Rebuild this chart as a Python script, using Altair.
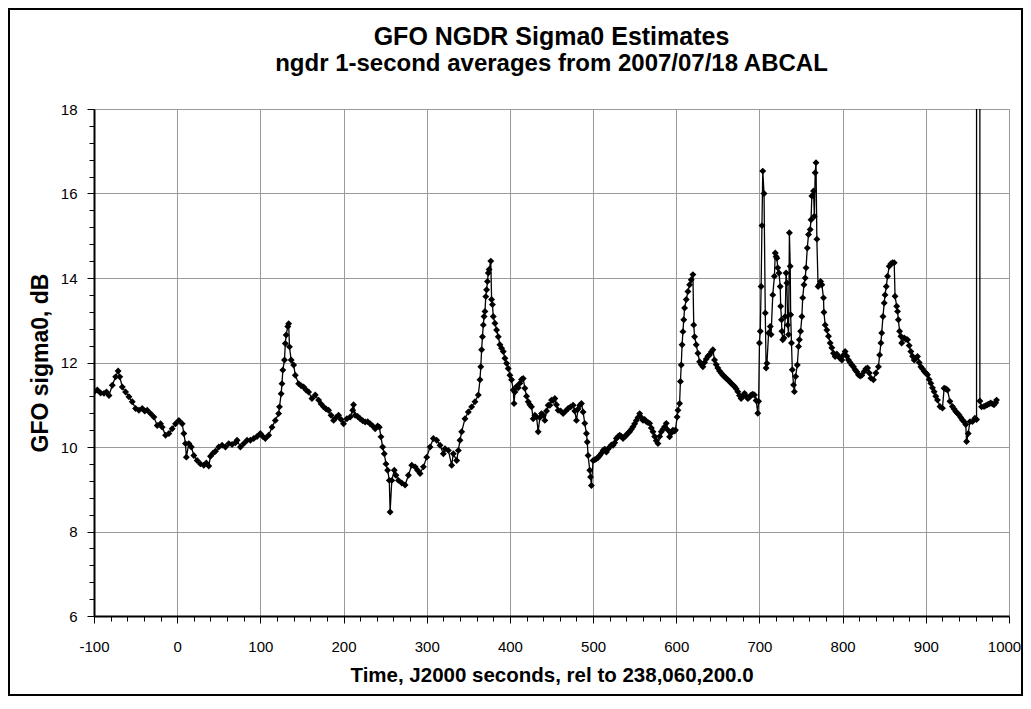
import altair as alt
import pandas as pd

# Time (s, rel to 238,060,200.0) and sigma0 (dB)
t_vals = [
    -100, -96, -92, -88, -85, -82, -78, -74, -71, -69, -66, -62, -58, -54, -50, -46, -42, -39, -36, -32,
    -28, -24, -20, -18, -14, -10, -6, -2, 2, 6, 8, 10, 11, 14, 17, 20, 24, 28, 32, 35,
    38, 40, 43, 46, 50, 54, 58, 62, 66, 70, 72, 76, 80, 84, 88, 92, 96, 100, 103, 106,
    110, 114, 118, 122, 123, 125, 126, 127, 129, 130, 131, 133, 134, 135, 137, 140, 142, 146, 149, 152,
    155, 158, 162, 166, 170, 173, 176, 179, 182, 185, 188, 191, 194, 197, 200, 204, 208, 211, 212, 214,
    217, 220, 223, 226, 229, 232, 235, 238, 241, 243, 245, 247, 249, 251, 253, 255, 256, 258, 261, 263,
    266, 270, 274, 278, 282, 286, 289, 292, 296, 300, 304, 308, 312, 316, 320, 322, 326, 330, 332, 336,
    338, 340, 342, 346, 350, 354, 358, 362, 364, 365, 366, 367, 368, 369, 370, 371, 372, 373, 374, 375,
    377, 378, 379, 380, 382, 384, 386, 388, 390, 392, 394, 396, 398, 400, 402, 404, 405, 406, 408, 410,
    412, 414, 416, 418, 420, 422, 424, 426, 428, 430, 432, 434, 436, 438, 440, 442, 444, 446, 448, 450,
    452, 454, 456, 458, 461, 464, 467, 470, 473, 476, 478, 480, 482, 484, 486, 488, 490, 492, 493, 494,
    496, 497, 498, 500, 502, 504, 506, 508, 510, 512, 514, 516, 518, 520, 522, 524, 526, 528, 530, 532,
    534, 536, 538, 540, 542, 544, 546, 548, 550, 552, 554, 556, 558, 560, 562, 564, 566, 568, 570, 572,
    574, 576, 578, 580, 582, 584, 586, 588, 590, 592, 594, 596, 598, 599, 601, 602, 604, 605, 606, 607,
    608, 609, 610, 612, 614, 616, 618, 620, 621, 622, 624, 626, 628, 630, 632, 634, 636, 638, 640, 642,
    644, 646, 648, 650, 652, 654, 656, 658, 660, 662, 664, 666, 668, 670, 672, 674, 676, 678, 680, 682,
    684, 686, 688, 690, 692, 694, 696, 698, 699, 700, 701, 702, 703, 704, 705.5, 707, 708, 709, 711, 713,
    714, 716, 718, 719, 720, 721, 722, 723.5, 725, 725.5, 726.5, 727, 728, 729.5, 731, 732, 733, 734, 735, 736,
    737, 737.5, 738.5, 739.5, 741, 742, 743.5, 745.5, 747, 748, 749.5, 751, 752, 753.5, 755, 756, 757.5, 759,
    761, 762, 763, 765, 766, 767, 768, 769, 770.5, 772, 773.5, 775, 777, 777.5, 779, 781, 783, 785, 787, 789,
    791, 793, 795, 797, 799, 801, 803, 805, 807, 809, 811, 813, 815, 817, 819, 821, 823, 826, 828, 830,
    832, 834, 837, 840, 843, 844.5, 846, 847, 848.5, 850, 851, 852.5, 854, 856, 858, 860, 862, 863, 865, 866,
    867, 868.5, 870, 871, 874, 876, 878, 880, 882, 884, 886, 888, 890, 892, 894, 896, 898, 900, 902, 904,
    906, 908, 910, 912, 914, 917, 920, 922, 924, 926, 929, 932, 934, 936, 938, 940, 942, 944, 946, 948,
    949, 951, 953, 956, 959, 961, 963, 965, 967, 970, 972, 974, 976, 978, 980, 982, 984, 985,
]
sigma0_vals = [
    11.30, 11.35, 11.28, 11.27, 11.30, 11.22, 11.46, 11.66, 11.80, 11.66, 11.42, 11.30, 11.19, 11.07, 10.91, 10.87, 10.91, 10.85, 10.87, 10.79,
    10.71, 10.51, 10.55, 10.47, 10.28, 10.32, 10.43, 10.55, 10.63, 10.55, 10.32, 10.08, 9.76, 10.08, 10.00, 9.80, 9.68, 9.60, 9.57, 9.62,
    9.55, 9.78, 9.85, 9.90, 10.00, 10.04, 10.00, 10.08, 10.06, 10.10, 10.16, 10.00, 10.08, 10.16, 10.16, 10.20, 10.25, 10.32, 10.25, 10.20,
    10.28, 10.47, 10.63, 10.79, 10.95, 11.26, 11.50, 11.82, 12.06, 12.45, 12.65, 12.85, 12.92, 12.37, 12.06, 11.94, 11.70, 11.50, 11.45, 11.42,
    11.35, 11.30, 11.15, 11.23, 11.11, 11.02, 10.95, 10.90, 10.87, 10.75, 10.63, 10.70, 10.75, 10.65, 10.55, 10.67, 10.71, 10.87, 11.00, 10.75,
    10.72, 10.67, 10.62, 10.59, 10.60, 10.55, 10.50, 10.43, 10.50, 10.47, 10.24, 10.00, 9.84, 9.60, 9.45, 9.21, 8.46, 9.21, 9.45, 9.33,
    9.21, 9.15, 9.10, 9.33, 9.57, 9.53, 9.45, 9.37, 9.53, 9.76, 10.00, 10.20, 10.16, 10.04, 9.84, 9.96, 9.92, 9.57, 9.84, 9.68,
    9.92, 10.16, 10.36, 10.67, 10.83, 10.95, 11.07, 11.23, 11.59, 11.90, 12.30, 12.61, 12.89, 13.09, 13.21, 13.56, 13.72, 13.92, 14.12, 14.20,
    14.40, 13.49, 13.37, 13.09, 12.93, 12.77, 12.61, 12.42, 12.34, 12.26, 12.10, 11.98, 11.86, 11.70, 11.59, 11.35, 11.03, 11.30, 11.43, 11.40,
    11.51, 11.60, 11.62, 11.39, 11.20, 11.07, 11.00, 10.95, 10.67, 10.75, 10.71, 10.36, 10.70, 10.79, 10.75, 10.63, 10.85, 10.99, 10.99, 11.11,
    11.10, 11.15, 11.00, 10.87, 10.85, 10.79, 10.85, 10.91, 10.95, 10.99, 10.85, 10.63, 10.90, 10.99, 11.03, 10.83, 10.56, 10.32, 10.12, 9.80,
    9.45, 9.29, 9.09, 9.68, 9.70, 9.72, 9.75, 9.80, 9.85, 9.92, 9.95, 9.88, 9.95, 10.00, 10.05, 10.04, 10.10, 10.20, 10.25, 10.28,
    10.25, 10.20, 10.25, 10.28, 10.33, 10.36, 10.42, 10.48, 10.55, 10.63, 10.70, 10.79, 10.70, 10.63, 10.65, 10.60, 10.58, 10.56, 10.45, 10.36,
    10.25, 10.15, 10.08, 10.25, 10.36, 10.42, 10.48, 10.56, 10.40, 10.24, 10.33, 10.40, 10.38, 10.40, 10.71, 10.87, 11.03, 11.55, 11.94, 12.42,
    12.73, 13.01, 13.29, 13.49, 13.68, 13.84, 13.96, 14.08, 12.89, 12.61, 12.42, 12.22, 12.02, 11.95, 11.90, 12.00, 12.08, 12.15, 12.18, 12.25,
    12.30, 12.06, 11.95, 11.87, 11.80, 11.75, 11.70, 11.67, 11.62, 11.59, 11.55, 11.51, 11.47, 11.43, 11.38, 11.31, 11.22, 11.15, 11.20, 11.27,
    11.20, 11.15, 11.18, 11.23, 11.25, 11.23, 11.10, 10.80, 11.08, 12.46, 12.74, 13.80, 15.24, 16.53, 16.00, 13.17, 11.87, 11.98, 12.70, 12.85,
    12.66, 13.60, 14.04, 14.59, 14.51, 14.47, 14.24, 14.12, 13.80, 13.33, 13.01, 12.74, 12.54, 12.58, 13.09, 14.12, 13.88, 12.89, 12.66, 15.07,
    14.28, 13.13, 12.46, 11.83, 11.47, 11.31, 11.67, 11.94, 12.38, 12.54, 12.74, 13.09, 13.53, 13.84, 14.00, 14.24, 14.71, 15.03,
    15.15, 15.38, 15.94, 16.06, 15.46, 16.49, 16.73, 14.92, 13.80, 13.84, 13.92, 13.84, 13.53, 13.19, 12.89, 12.77, 12.62, 12.46, 12.35, 12.22,
    12.14, 12.20, 12.14, 12.10, 12.06, 12.18, 12.26, 12.15, 12.06, 12.00, 11.94, 11.90, 11.83, 11.78, 11.71, 11.68, 11.70, 11.79, 11.85, 11.87,
    11.75, 11.63, 11.59, 11.75, 11.90, 12.18, 12.46, 12.70, 13.09, 13.41, 13.60, 13.80, 14.04, 14.28, 14.34, 14.36, 14.36, 13.57, 13.33, 13.21,
    13.01, 12.74, 12.62, 12.46, 12.58, 12.55, 12.54, 12.40, 12.26, 12.15, 12.06, 12.10, 12.14, 12.00, 11.90, 11.85, 11.79, 11.75, 11.71, 11.60,
    11.51, 11.40, 11.31, 11.20, 11.11, 10.96, 10.92, 11.39, 11.38, 11.35, 11.08, 10.96, 10.90, 10.84, 10.80, 10.76, 10.70, 10.64, 10.60, 10.53,
    10.13, 10.32, 10.60, 10.60, 10.68, 10.65, 999.0, 11.09, 10.95, 10.96, 10.98, 11.00, 11.02, 11.04, 11.02, 11.00, 11.05, 11.11,
]

x_ticks = list(range(-100, 1001, 20))
y_ticks = [round(6 + 0.4 * i, 1) for i in range(31)]

df = pd.DataFrame({"t": t_vals, "sigma0": sigma0_vals})

FONT = "Liberation Sans"
maj_x = "abs(datum.value/100 - round(datum.value/100)) < 0.001"
maj_y = "abs(datum.value/2 - round(datum.value/2)) < 0.001"

x_enc = alt.X(
    "t:Q",
    scale=alt.Scale(domain=[-100, 1000], nice=False, zero=False),
    axis=alt.Axis(
        values=x_ticks,
        tickCount=200,
        labelExpr=f"({maj_x}) ? ('' + round(datum.value)) : ''",
        labelOverlap=False,
        labelFlush=False,
        labelOffset={"condition": {"test": "datum.value >= 1000", "value": -5}, "value": 0},
        grid=True,
        gridColor="#9a9a9a",
        gridWidth=1,
        gridOpacity={"condition": {"test": maj_x, "value": 1}, "value": 0},
        tickSize={"condition": {"test": maj_x, "value": 7}, "value": 5},
        tickColor="black",
        domainColor="black",
        domainWidth=2,
        labelFont=FONT,
        labelFontSize=15,
        labelColor="black",
        labelPadding=16,
        title="Time, J2000 seconds, rel to 238,060,200.0",
        titleFont=FONT,
        titleFontSize=20.5,
        titleFontWeight="bold",
        titleColor="black",
        titlePadding=11,
    ),
)
y_enc = alt.Y(
    "sigma0:Q",
    scale=alt.Scale(domain=[6, 18], nice=False, zero=False),
    axis=alt.Axis(
        values=y_ticks,
        tickCount=200,
        labelExpr=f"({maj_y}) ? ('' + round(datum.value)) : ''",
        labelOverlap=False,
        labelFlush=False,
        grid=True,
        gridColor="#9a9a9a",
        gridWidth=1,
        gridOpacity={"condition": {"test": maj_y, "value": 1}, "value": 0},
        tickSize={"condition": {"test": maj_y, "value": 7}, "value": 5},
        tickColor="black",
        domainColor="black",
        domainWidth=2,
        labelFont=FONT,
        labelFontSize=15,
        labelColor="black",
        labelPadding=10,
        title="GFO sigma0, dB",
        titleFont=FONT,
        titleFontSize=23,
        titleFontWeight="bold",
        titleColor="black",
        titlePadding=8,
    ),
)

base = alt.Chart(df)
line = base.mark_line(color="black", strokeWidth=1.3, clip=True).encode(x=x_enc, y=y_enc)
pts = base.mark_point(shape="diamond", filled=True, color="black", size=48, opacity=1, clip=True).encode(
    x="t:Q", y="sigma0:Q"
)

frame = alt.Chart(pd.DataFrame({"k": [0]})).mark_rect(
    fill=None, stroke="black", strokeWidth=2
).encode(x=alt.value(-85), x2=alt.value(928), y=alt.value(-100), y2=alt.value(586))

chart = (
    alt.layer(line, pts, frame)
    .properties(
        width=915,
        height=507,
        autosize=alt.AutoSizeParams(type="none"),
        padding={"left": 86, "top": 101, "right": 14, "bottom": 80},
        title=alt.TitleParams(
            text="GFO NGDR Sigma0 Estimates",
            subtitle="ngdr 1-second averages from 2007/07/18 ABCAL",
            font=FONT,
            fontSize=25,
            fontWeight="bold",
            color="black",
            subtitleFont=FONT,
            subtitleFontSize=24,
            subtitleFontWeight="bold",
            subtitleColor="black",
            subtitlePadding=2,
            anchor="middle",
            offset=18,
            dy=86,
        ),
    )
    .configure_view(stroke=None)
    .configure(background="white")
)

chart.save("out.html", embed_options={"renderer": "svg", "actions": False})
